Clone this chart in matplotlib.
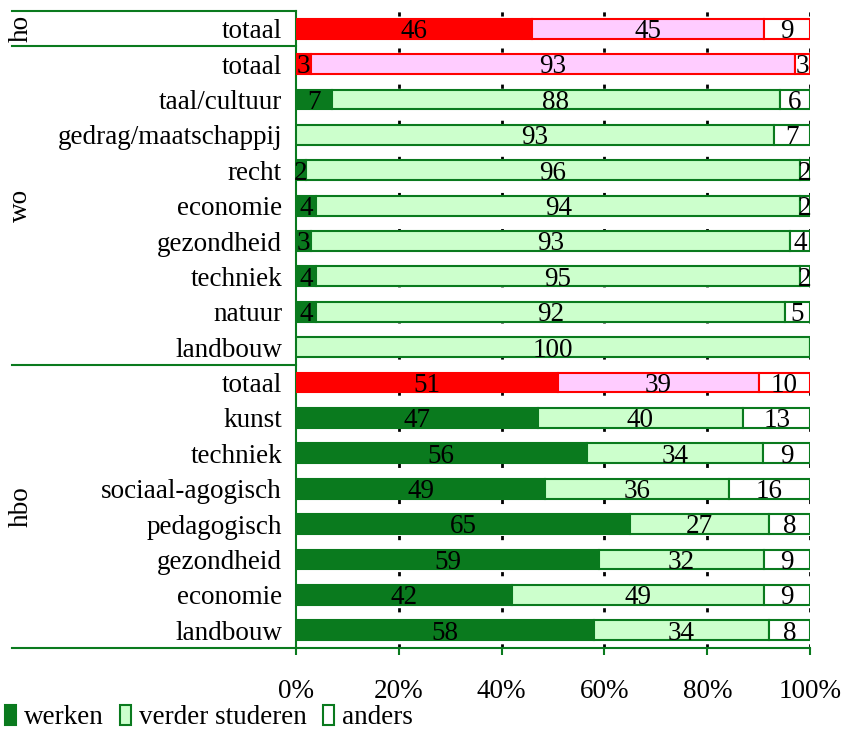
import numpy as np
import matplotlib.pyplot as plt
from matplotlib.patches import Patch

plt.rcParams['font.family'] = ['Liberation Serif', 'DejaVu Serif']

# rijen van boven naar beneden
rows = ['totaal',
        'totaal', 'taal/cultuur', 'gedrag/maatschappij', 'recht', 'economie',
        'gezondheid', 'techniek', 'natuur', 'landbouw',
        'totaal', 'kunst', 'techniek', 'sociaal-agogisch', 'pedagogisch',
        'gezondheid', 'economie', 'landbouw']
werken = [46, 3, 7, 0, 2, 4, 3, 4, 4, 0, 51, 47, 56, 49, 65, 59, 42, 58]
studeren = [45, 93, 88, 93, 96, 94, 93, 95, 92, 100, 39, 40, 34, 36, 27, 32, 49, 34]
anders = [9, 3, 6, 7, 2, 2, 4, 2, 5, 0, 10, 13, 9, 16, 8, 9, 9, 8]
is_totaal = [True, True] + [False] * 8 + [True] + [False] * 7

groups = [('ho', 0, 0), ('wo', 1, 9), ('hbo', 10, 17)]

GREEN = '#0a7a1e'
LIGHT = '#ccffcc'
RED = '#ff0000'
PINK = '#ffccff'
FS = 19.5

fig = plt.figure(figsize=(8.43, 7.33), dpi=100)
ax = fig.add_axes([0.351, 0.116, 0.610, 0.869])

w = np.array(werken, float)
s = np.array(studeren, float)
a = np.array(anders, float)
tot = w + s + a
wp, sp, ap = w / tot * 100, s / tot * 100, a / tot * 100
y = np.arange(len(rows))

c1 = [RED if t else GREEN for t in is_totaal]
c2 = [PINK if t else LIGHT for t in is_totaal]
ec = [RED if t else GREEN for t in is_totaal]

h = 0.56
ax.barh(y, wp, height=h, color=c1, edgecolor=ec, linewidth=1.5, zorder=3)
ax.barh(y, sp, left=wp, height=h, color=c2, edgecolor=ec, linewidth=1.5, zorder=3)
ax.barh(y, ap, left=wp + sp, height=h, color='white', edgecolor=ec, linewidth=1.5, zorder=3)

# waarden in de segmenten
for vals, lefts, widths in [(werken, np.zeros(len(y)), wp), (studeren, wp, sp), (anders, wp + sp, ap)]:
    for yi, v, l, wd in zip(y, vals, lefts, widths):
        if v > 0:
            ax.text(l + wd / 2, yi + 0.08, str(v), ha='center', va='center', fontsize=FS, zorder=4)

ax.set_xlim(0, 100)
ax.set_ylim(len(rows) - 0.5, -0.5)
ax.set_yticks(y)
ax.set_yticklabels(rows, fontsize=FS)
ax.tick_params(axis='y', length=0, pad=10)
ax.set_xticks([0, 20, 40, 60, 80, 100])
ax.set_xticklabels(['0%', '20%', '40%', '60%', '80%', '100%'], fontsize=FS)
ax.tick_params(axis='x', length=5, width=1.5, color=GREEN, pad=17)

for x in [20, 40, 60, 80, 100]:
    ax.axvline(x, color='black', linestyle=(0, (1.5, 5)), linewidth=2, zorder=1)

for sp_name in ['top', 'right']:
    ax.spines[sp_name].set_visible(False)
ax.spines['left'].set_color(GREEN)
ax.spines['left'].set_linewidth(1.5)
ax.spines['bottom'].set_color(GREEN)
ax.spines['bottom'].set_linewidth(1.5)

# groepsscheidingen links van de as
xl = -0.553
for yb in [-0.5, 0.5, 9.5, 17.5]:
    ax.plot([xl, 0], [yb, yb], transform=ax.get_yaxis_transform(), color=GREEN,
            linewidth=1.5, clip_on=False)
for name, r0, r1 in groups:
    ax.text(-0.535, (r0 + r1) / 2, name, transform=ax.get_yaxis_transform(),
            rotation=90, ha='center', va='center', fontsize=FS)

handles = [Patch(facecolor=GREEN, edgecolor=GREEN, linewidth=1.5),
           Patch(facecolor=LIGHT, edgecolor=GREEN, linewidth=1.5),
           Patch(facecolor='white', edgecolor=GREEN, linewidth=1.5)]
fig.legend(handles, ['werken', 'verder studeren', 'anders'], loc='lower left',
           bbox_to_anchor=(0.003, 0.0), ncol=3, frameon=False, fontsize=FS,
           handlelength=0.4, handleheight=0.8, handletextpad=0.3,
           columnspacing=0.6, borderpad=0.0, borderaxespad=0.1)

fig.savefig('out.png', dpi=100)
